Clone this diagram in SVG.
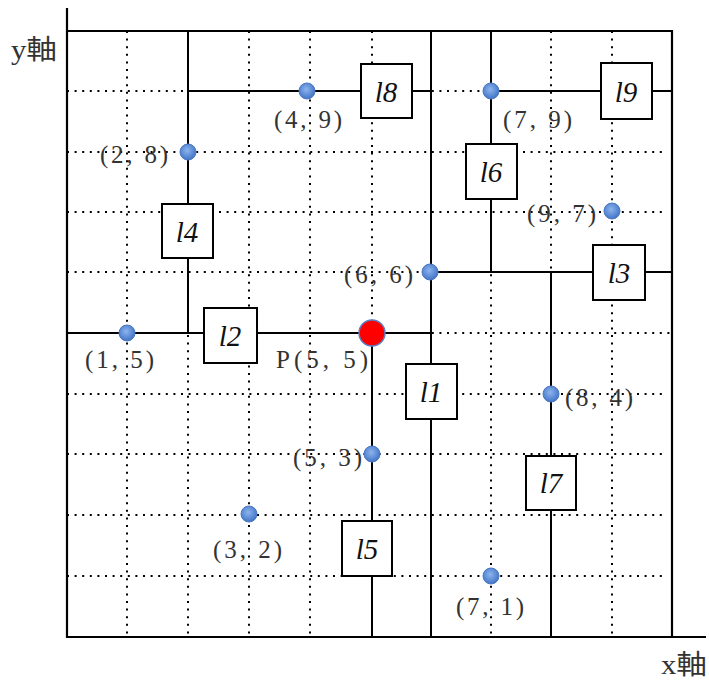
<svg xmlns="http://www.w3.org/2000/svg" width="709" height="681" viewBox="0 0 709 681">
<style>
.grid{stroke:#000;stroke-width:2;stroke-dasharray:2 5.6;fill:none}
.ax{stroke:#000;stroke-width:2.2;fill:none}
.sl{stroke:#000;stroke-width:2;fill:none}
.box{fill:#fff;stroke:#000;stroke-width:2}
.bl{font-family:"Liberation Serif",serif;font-style:italic;font-size:29px;text-anchor:middle;fill:#111}
.lab{font-family:"Liberation Serif",serif;font-size:25px;fill:#333}
.ax-t{font-family:"Liberation Serif","Noto Sans CJK JP",serif;font-size:27px;fill:#333}
.pt{fill:url(#bg);stroke:#4a78c2;stroke-width:1}
</style>
<defs>
<radialGradient id="bg" cx="0.45" cy="0.4" r="0.6">
<stop offset="0" stop-color="#8cb4ee"/>
<stop offset="1" stop-color="#4274c6"/>
</radialGradient>
</defs>
<rect width="709" height="681" fill="#fff"/>
<g id="grid">
<path class="grid" d="M127 31V637M188 31V637M249 31V637M310 31V637M372 31V637M431 31V637M491 31V637M551 31V637M612 31V637"/>
<path class="grid" d="M67 91H665M67 152H665M67 212H665M67 272H665M67 333H675M67 394H665M67 454H665M67 515H665M67 576H665"/>
</g>
<g id="axes">
<path class="ax" d="M67 8V637H706"/>
<path class="ax" d="M67 31H672V637"/>
<text class="ax-t" x="11" y="59" textLength="46" lengthAdjust="spacingAndGlyphs">y軸</text>
<text class="ax-t" x="661" y="674" textLength="46" lengthAdjust="spacingAndGlyphs">x軸</text>
</g>
<g id="connectors">
<path class="sl" d="M431 31V637"/>
<path class="sl" d="M67 333H431"/>
<path class="sl" d="M431 272H672"/>
<path class="sl" d="M188 31V333"/>
<path class="sl" d="M372 333V637"/>
<path class="sl" d="M491 31V272"/>
<path class="sl" d="M551 272V637"/>
<path class="sl" d="M188 91H431"/>
<path class="sl" d="M491 91H672"/>
</g>
<g id="l1"><rect class="box" x="406" y="364" width="51" height="55"/><text class="bl" x="431" y="402">l1</text></g>
<g id="l2"><rect class="box" x="204" y="308" width="53" height="55"/><text class="bl" x="230" y="346">l2</text></g>
<g id="l3"><rect class="box" x="593" y="245" width="52" height="55"/><text class="bl" x="619" y="283">l3</text></g>
<g id="l4"><rect class="box" x="162" y="204" width="51" height="54"/><text class="bl" x="187" y="242">l4</text></g>
<g id="l5"><rect class="box" x="342" y="521" width="50" height="55"/><text class="bl" x="367" y="559">l5</text></g>
<g id="l6"><rect class="box" x="466" y="144" width="51" height="55"/><text class="bl" x="491" y="182">l6</text></g>
<g id="l7"><rect class="box" x="526" y="456" width="50" height="54"/><text class="bl" x="551" y="493">l7</text></g>
<g id="l8"><rect class="box" x="361" y="64" width="51" height="54"/><text class="bl" x="386" y="102">l8</text></g>
<g id="l9"><rect class="box" x="601" y="63" width="51" height="56"/><text class="bl" x="626" y="102">l9</text></g>
<g id="points">
<circle class="pt" cx="127" cy="333" r="8"/>
<circle class="pt" cx="188" cy="152" r="8"/>
<circle class="pt" cx="307" cy="91" r="8"/>
<circle class="pt" cx="430" cy="272" r="8"/>
<circle class="pt" cx="491" cy="91" r="8"/>
<circle class="pt" cx="612" cy="211" r="8"/>
<circle class="pt" cx="551" cy="394" r="8"/>
<circle class="pt" cx="372" cy="454" r="8"/>
<circle class="pt" cx="249" cy="514" r="8"/>
<circle class="pt" cx="491" cy="576" r="8"/>
<circle id="P" cx="372" cy="333" r="13" fill="#ff0000" stroke="#5b80c4" stroke-width="1.5"/>
</g>
<g id="labels">
<text class="lab" x="85" y="368" textLength="69" lengthAdjust="spacing">(1, 5)</text>
<text class="lab" x="100" y="163" textLength="68" lengthAdjust="spacing">(2, 8)</text>
<text class="lab" x="274" y="128" textLength="68" lengthAdjust="spacing">(4, 9)</text>
<text class="lab" x="503" y="128" textLength="69" lengthAdjust="spacing">(7, 9)</text>
<text class="lab" x="527" y="222" textLength="69" lengthAdjust="spacing">(9, 7)</text>
<text class="lab" x="344" y="283" textLength="69" lengthAdjust="spacing">(6, 6)</text>
<text class="lab" x="565" y="406" textLength="68" lengthAdjust="spacing">(8, 4)</text>
<text class="lab" x="276" y="368" textLength="92" lengthAdjust="spacing">P(5, 5)</text>
<text class="lab" x="293" y="466" textLength="69" lengthAdjust="spacing">(5, 3)</text>
<text class="lab" x="213" y="558" textLength="69" lengthAdjust="spacing">(3, 2)</text>
<text class="lab" x="456" y="615" textLength="68" lengthAdjust="spacing">(7, 1)</text>
</g>
</svg>
